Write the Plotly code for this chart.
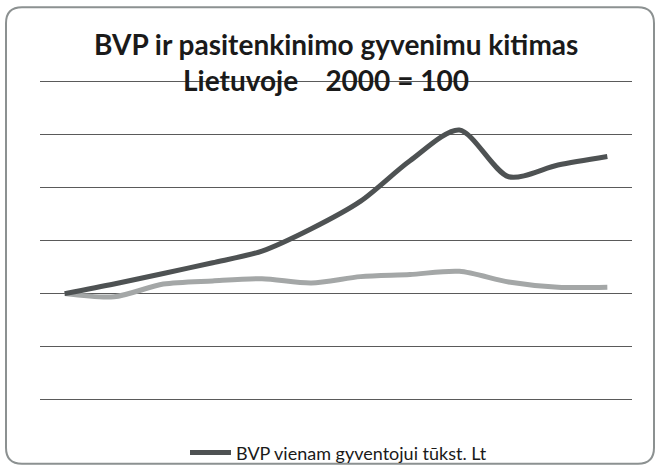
import plotly.graph_objects as go

years = [2000, 2001, 2002, 2003, 2004, 2005, 2006, 2007, 2008, 2009, 2010, 2011]
bvp = [100, 109, 119, 129, 140, 161, 187, 225, 254, 210, 221, 229]
satisfaction = [100, 97, 109, 112, 114, 110, 116, 118, 121, 111, 106, 106]
title_line1 = "BVP ir pasitenkinimo gyvenimu kitimas"
title_line2 = "Lietuvoje\u00a0\u00a0\u00a0\u00a02000 = 100"
bvp_name = "BVP vienam gyventojui tūkst. Lt"
sat_name = "Pasitenkinimas gyvenimu"

W, H = 655, 467
# target pixel positions of the y range 0..300 and the x plot area
Y0PX, Y300PX = 400.0, 81.0
YPAD = 2.0  # data units of padding so edge gridlines are drawn
scale = (Y0PX - Y300PX) / 300.0
L, R = 40, 23
T = Y300PX - YPAD * scale
B = H - (Y0PX + YPAD * scale)
pw, ph = W - L - R, H - T - B

def px(x):
    return (x - L) / pw

def py(y):
    return (H - B - y) / ph

fig = go.Figure()
fig.add_trace(go.Scatter(x=years, y=satisfaction, mode="lines", name=sat_name,
                         line=dict(color="#a4a7a7", width=5, shape="spline", smoothing=0.8),
                         showlegend=False))
fig.add_trace(go.Scatter(x=years, y=bvp, mode="lines", name=bvp_name,
                         line=dict(color="#4e5253", width=5, shape="spline", smoothing=0.8)))

# rounded outer frame
x0, x1, y0, y1, r = 6, 654, 7, 464, 16
path = (f"M {px(x0)},{py(y0 + r)} L {px(x0)},{py(y1 - r)} Q {px(x0)},{py(y1)} {px(x0 + r)},{py(y1)} "
        f"L {px(x1 - r)},{py(y1)} Q {px(x1)},{py(y1)} {px(x1)},{py(y1 - r)} "
        f"L {px(x1)},{py(y0 + r)} Q {px(x1)},{py(y0)} {px(x1 - r)},{py(y0)} "
        f"L {px(x0 + r)},{py(y0)} Q {px(x0)},{py(y0)} {px(x0)},{py(y0 + r)} Z")

fig.update_layout(
    width=W, height=H,
    margin=dict(l=L, r=R, t=T, b=B, autoexpand=False),
    paper_bgcolor="white", plot_bgcolor="white",
    xaxis=dict(range=[years[0] - 0.5, years[-1] + 0.5], showgrid=False, showticklabels=False,
               zeroline=False, showline=False, ticks=""),
    yaxis=dict(range=[-YPAD, 300 + YPAD], tickvals=[0, 50, 100, 150, 200, 250, 300], showgrid=True,
               gridcolor="#5a5a5a", gridwidth=1,
               showticklabels=False, zeroline=False, showline=False, ticks=""),
    shapes=[dict(type="path", xref="paper", yref="paper", path=path,
                 line=dict(color="#8c9191", width=2), layer="below")],
    annotations=[
        dict(text=title_line1, xref="paper", yref="paper", x=px(336), y=py(44),
             xanchor="center", yanchor="middle", showarrow=False,
             font=dict(family="Lato", size=28, color="#1a1a1a", weight="bold")),
        dict(text=title_line2, xref="paper", yref="paper", x=px(326), y=py(80),
             xanchor="center", yanchor="middle", showarrow=False,
             font=dict(family="Lato", size=28, color="#1a1a1a", weight="bold")),
    ],
    legend=dict(orientation="h", x=px(185), y=py(453), xanchor="left", yanchor="middle",
                itemwidth=41,
                font=dict(family="Lato", size=18, color="#1a1a1a"), bgcolor="rgba(0,0,0,0)"),
    showlegend=True,
)

fig.write_html("out.html", config={"displayModeBar": False},
               post_script="document.body.style.margin='0px';document.body.style.overflow='hidden';")
